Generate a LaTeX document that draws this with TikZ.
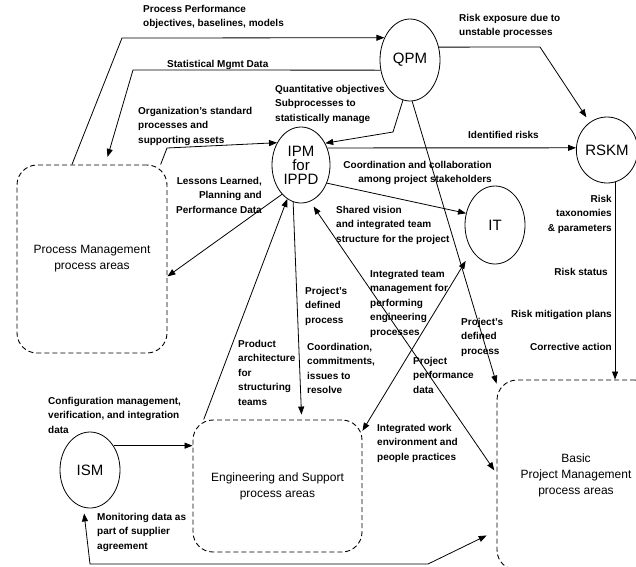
\documentclass[tikz,border=0pt]{standalone}
\usepackage{fontspec}
\setmainfont{Liberation Sans}
\usetikzlibrary{shapes.geometric,arrows.meta}

\begin{document}
\begin{tikzpicture}[x=1pt, y=-1pt,
    proc/.style={draw, ellipse, inner sep=0pt, line width=0.8pt, align=center, font=\fontsize{15}{14}\selectfont},
    area/.style={draw, rounded corners=20pt, dash pattern=on 5pt off 3pt, line width=0.9pt, align=center, font=\fontsize{12}{16}\selectfont},
    lbl/.style={inner sep=0pt, anchor=north west, align=left, font=\bfseries\fontsize{10}{14.5}\selectfont},
    rlbl/.style={lbl, anchor=north east, align=right},
    arr/.style={-{Triangle[length=8pt,width=6pt]}, line width=0.8pt},
    both/.style={{Triangle[length=8pt,width=6pt]}-{Triangle[length=8pt,width=6pt]}, line width=0.8pt}]
    \clip (0,0) rectangle (636,566);
    \node[proc, minimum width=60pt, minimum height=82pt] (qpm) at (410,60) {QPM};
    \node[proc, minimum width=58pt, minimum height=76pt] (ipm) at (301,165) {IPM\\for\\IPPD};
    \node[proc, minimum width=60pt, minimum height=66pt] (rskm) at (607,150) {RSKM};
    \node[proc, minimum width=60pt, minimum height=78pt] (it) at (495,225) {IT};
    \node[proc, minimum width=60pt, minimum height=76pt] (ism) at (90,470) {ISM};
    \node[area, minimum width=150pt, minimum height=188pt] (pma) at (92,259) {Process Management\\process areas};
    \node[area, minimum width=169pt, minimum height=132pt] (esa) at (277.5,486) {Engineering and Support\\process areas};
    \node[area, minimum width=158pt, minimum height=190pt] (bpm) at (576,475) {Basic\\Project Management\\process areas};
    \coordinate (b1) at (122,38);
    \coordinate (b2) at (133,70);
    \coordinate (b3) at (167,148);
    \coordinate (b5) at (393,132);
    \coordinate (b7) at (540,47);
    \coordinate (m1) at (90,564);
    \coordinate (m2) at (428,564);
    \draw[arr] (pma.102) -- (b1) -- (qpm.139);
    \draw[arr, shorten >=8pt] (qpm.199) -- (b2) -- (pma.82);
    \draw[arr] (pma.54) -- (b3) -- (ipm.137);
    \draw[arr] (ipm.237) -- (pma.347);
    \draw[arr] (qpm.260) -- (b5) -- (ipm.42);
    \draw[arr] (qpm.273) -- (bpm.131);
    \draw[arr, shorten >=6pt] (qpm.24) -- (b7) -- (rskm.122);
    \draw[arr] (ipm.33) -- (rskm.176);
    \draw[arr] (ipm.325) -- (it.158);
    \draw[arr] (rskm.284) -- (rskm.284 |- bpm.north);
    \draw[arr] (esa.138) -- (ipm.248);
    \draw[arr, shorten >=5pt] (ipm.258) -- (esa.70);
    \draw[both, shorten <=6pt, shorten >=4pt] (ipm.284) -- (bpm.179);
    \draw[both, shorten >=12pt] (esa.33) -- (it.228);
    \draw[both, shorten <=6pt, shorten >=11pt] (ism.260) -- (m1) -- (m2) -- (bpm.215);
    \draw[arr] (ism.46) -- (ism.46 -| esa.west);
    \node[lbl] (ppo) at (143,5) {Process Performance\\objectives, baselines, models};
    \node[lbl] (smd) at (167,60) {Statistical Mgmt Data};
    \node[lbl] (osp) at (138,107) {Organization's standard\\processes and\\supporting assets};
    \node[lbl] (qos) at (275,85) {Quantitative objectives\\Subprocesses to\\statistically manage};
    \node[lbl] (reu) at (459,14) {Risk exposure due to\\unstable processes};
    \node[lbl] (idr) at (468,131) {Identified risks};
    \node[rlbl] (llp) at (262,177) {Lessons Learned,\\Planning and\\Performance Data};
    \node[rlbl] (cac) at (492,161) {Coordination and collaboration\\among project stakeholders};
    \node[lbl] (svi) at (336,206) {Shared vision\\and integrated team\\structure for the project};
    \node[rlbl] (rtp) at (612,195) {Risk\\taxonomies\\\& parameters};
    \node[rlbl] (rst) at (608,268) {Risk status};
    \node[rlbl] (rmp) at (612,310) {Risk mitigation plans};
    \node[rlbl] (cra) at (612,343) {Corrective action};
    \node[lbl] (itm) at (370,270) {Integrated team\\management for\\performing\\engineering\\processes};
    \node[lbl] (pdp) at (305,287) {Project's\\defined\\process};
    \node[lbl] (qdp) at (461,318) {Project's\\defined\\process};
    \node[lbl] (cci) at (307,343) {Coordination,\\commitments,\\issues to\\resolve};
    \node[lbl] (ppd) at (413,357) {Project\\performance\\data};
    \node[lbl] (iwe) at (377,424) {Integrated work\\environment and\\people practices};
    \node[lbl] (pas) at (238,340) {Product\\architecture\\for\\structuring\\teams};
    \node[lbl] (cmv) at (48,397) {Configuration management,\\verification, and integration\\data};
    \node[lbl] (mds) at (97,513) {Monitoring data as\\part of supplier\\agreement};
\end{tikzpicture}
\end{document}
